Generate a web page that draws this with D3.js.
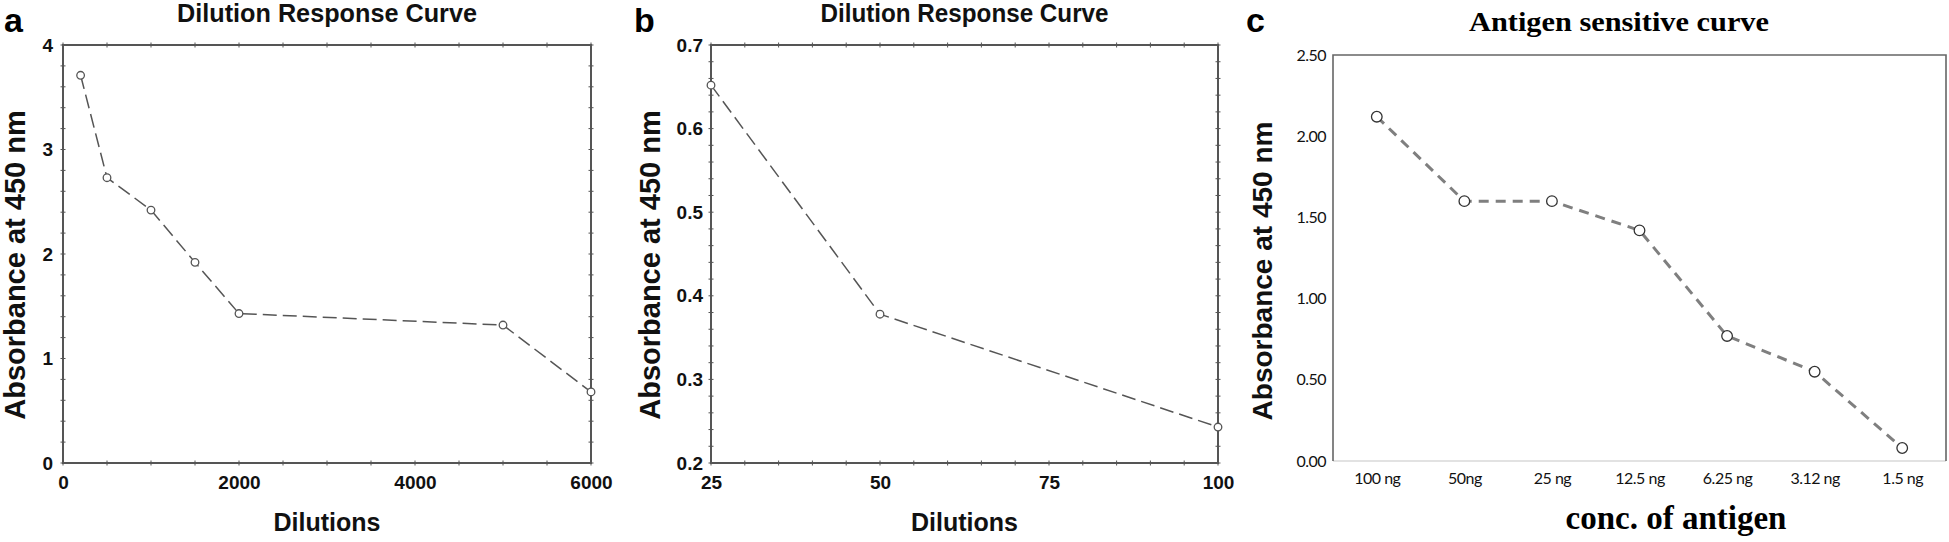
<!DOCTYPE html>
<html>
<head>
<meta charset="utf-8">
<script src="https://cdn.jsdelivr.net/npm/d3@7"></script>
<style>
  body { margin: 0; background: #fff; }
</style>
</head>
<body>
<script>
// panel a
const dilutionsA = [200, 500, 1000, 1500, 2000, 5000, 6000]
const absorbanceA = [3.71, 2.73, 2.42, 1.92, 1.43, 1.32, 0.68]
const xTicksA = [0, 2000, 4000, 6000]
const yTicksA = [0, 1, 2, 3, 4]

// panel b
const dilutionsB = [25, 50, 100]
const absorbanceB = [0.652, 0.378, 0.243]
const xTicksB = [25, 50, 75, 100]
const yTicksB = [0.2, 0.3, 0.4, 0.5, 0.6, 0.7]

// panel c
const concentrations = ['100 ng', '50ng', '25 ng', '12.5 ng', '6.25 ng', '3.12 ng', '1.5 ng']
const absorbanceC = [2.12, 1.60, 1.60, 1.42, 0.77, 0.55, 0.08]
const yTicksC = [0, 0.5, 1, 1.5, 2, 2.5]

const sans = '"Liberation Sans", Arial, sans-serif'
const serif = '"Liberation Serif", "Times New Roman", serif'
const frameColor = '#555'

const svg = d3.select('body').append('svg')
    .attr('width', 1949)
    .attr('height', 542)

// ---------- panels a and b: boxed statistica-style plots ----------
function boxedPanel(opts) {
    const g = svg.append('g')
    const x = opts.x, y = opts.y
    const [x0, x1] = x.range()
    const [y0, y1] = y.range()

    // minor ticks on all four sides, crossing the frame
    const xm = d3.range(opts.xMin[0], opts.xMin[1] + 1e-9, opts.xMin[2])
    const ym = d3.range(opts.yMin[0], opts.yMin[1] + 1e-9, opts.yMin[2])
    for (const yy of [y0, y1]) {
        g.selectAll(null).data(xm).enter().append('line')
            .attr('x1', d => x(d)).attr('x2', d => x(d))
            .attr('y1', yy - 2.5).attr('y2', yy + 2.5)
            .attr('stroke', frameColor).attr('stroke-width', 1)
    }
    for (const xx of [x0, x1]) {
        g.selectAll(null).data(ym).enter().append('line')
            .attr('y1', d => y(d)).attr('y2', d => y(d))
            .attr('x1', xx - 2.5).attr('x2', xx + 2.5)
            .attr('stroke', frameColor).attr('stroke-width', 1)
    }

    g.append('rect')
        .attr('x', x0).attr('y', y1)
        .attr('width', x1 - x0).attr('height', y0 - y1)
        .attr('fill', 'none')
        .attr('stroke', frameColor)
        .attr('stroke-width', 2)

    const xAxis = g.append('g')
        .attr('transform', `translate(0,${y0})`)
        .call(d3.axisBottom(x).tickValues(opts.xTicks).tickSize(0).tickPadding(13).tickFormat(d3.format('d')))
    const yAxis = g.append('g')
        .attr('transform', `translate(${x0},0)`)
        .call(d3.axisLeft(y).tickValues(opts.yTicks).tickSize(0).tickPadding(opts.yPad).tickFormat(opts.yFmt))
    for (const ax of [xAxis, yAxis]) {
        ax.select('.domain').remove()
        ax.selectAll('text')
            .attr('fill', '#111')
            .style('font-family', sans)
            .style('font-weight', 'bold')
            .style('font-size', '19px')
    }

    const pts = opts.xs.map((d, i) => [d, opts.ys[i]])
    g.append('path')
        .datum(pts)
        .attr('d', d3.line().x(d => x(d[0])).y(d => y(d[1])))
        .attr('fill', 'none')
        .attr('stroke', '#555')
        .attr('stroke-width', 1.5)
        .attr('stroke-dasharray', '14,6')

    g.selectAll(null).data(pts).enter().append('circle')
        .attr('cx', d => x(d[0]))
        .attr('cy', d => y(d[1]))
        .attr('r', 3.8)
        .attr('fill', '#fff')
        .attr('stroke', '#555')
        .attr('stroke-width', 1.3)

    const cx = (x0 + x1) / 2
    g.append('text')
        .attr('x', cx).attr('y', 22)
        .attr('text-anchor', 'middle')
        .attr('textLength', opts.titleLen)
        .attr('lengthAdjust', 'spacingAndGlyphs')
        .style('font-family', sans).style('font-weight', 'bold').style('font-size', '25px')
        .attr('fill', '#111')
        .text('Dilution Response Curve')

    g.append('text')
        .attr('x', cx).attr('y', 531)
        .attr('text-anchor', 'middle')
        .style('font-family', sans).style('font-weight', 'bold').style('font-size', '25px')
        .attr('fill', '#111')
        .text('Dilutions')

    g.append('text')
        .attr('transform', `translate(${opts.yTitleX},265) rotate(-90)`)
        .attr('text-anchor', 'middle')
        .style('font-family', sans).style('font-weight', 'bold').style('font-size', '29px')
        .attr('fill', '#111')
        .text('Absorbance at 450 nm')

    g.append('text')
        .attr('x', opts.letterX).attr('y', 32)
        .style('font-family', sans).style('font-weight', 'bold').style('font-size', '34px')
        .attr('fill', '#000')
        .text(opts.letter)
}

boxedPanel({
    x: d3.scaleLinear().domain([0, 6000]).range([63, 591]),
    y: d3.scaleLinear().domain([0, 4]).range([463, 45]),
    xs: dilutionsA, ys: absorbanceA,
    xTicks: xTicksA, yTicks: yTicksA,
    xMin: [0, 6000, 500], yMin: [0, 4, 0.2],
    yFmt: d3.format('d'), yPad: 10,
    titleLen: 300, yTitleX: 25, letter: 'a', letterX: 4
})

boxedPanel({
    x: d3.scaleLinear().domain([25, 100]).range([711, 1218]),
    y: d3.scaleLinear().domain([0.2, 0.7]).range([463, 45]),
    xs: dilutionsB, ys: absorbanceB,
    xTicks: xTicksB, yTicks: yTicksB,
    xMin: [25, 100, 5], yMin: [0.2, 0.7, 0.02],
    yFmt: d3.format('.1f'), yPad: 8,
    titleLen: 288, yTitleX: 660, letter: 'b', letterX: 634
})

// ---------- panel c: excel-style line chart ----------
const gc = svg.append('g')
const xc = d3.scalePoint().domain(concentrations).range([1333, 1946]).padding(0.5)
const yc = d3.scaleLinear().domain([0, 2.5]).range([461, 55])

// frame: light bottom axis, darker other sides
gc.append('line')
    .attr('x1', 1333).attr('x2', 1946).attr('y1', yc(0)).attr('y2', yc(0))
    .attr('stroke', '#d9d9d9').attr('stroke-width', 1.5)
gc.append('path')
    .attr('d', `M${xc.range()[0]},${yc(0)}V${yc(2.5)}H${xc.range()[1]}V${yc(0)}`)
    .attr('fill', 'none')
    .attr('stroke', '#666')
    .attr('stroke-width', 1.6)

const xAxisC = gc.append('g')
    .attr('transform', `translate(0,${yc(0)})`)
    .call(d3.axisBottom(xc).tickSize(0).tickPadding(12))
const yAxisC = gc.append('g')
    .attr('transform', `translate(1333,0)`)
    .call(d3.axisLeft(yc).tickValues(yTicksC).tickSize(0).tickPadding(7).tickFormat(d3.format('.2f')))
for (const ax of [xAxisC, yAxisC]) {
    ax.select('.domain').remove()
    ax.selectAll('text')
        .attr('fill', '#111')
        .style('font-family', 'Lato, "Open Sans", sans-serif')
        .style('font-size', '16px')
        .style('letter-spacing', '-0.5px')
}

const ptsC = concentrations.map((d, i) => [d, absorbanceC[i]])
gc.append('path')
    .datum(ptsC)
    .attr('d', d3.line().x(d => xc(d[0])).y(d => yc(d[1])))
    .attr('fill', 'none')
    .attr('stroke', '#7f7f7f')
    .attr('stroke-width', 3)
    .attr('stroke-dasharray', '10,7')

gc.selectAll(null).data(ptsC).enter().append('circle')
    .attr('cx', d => xc(d[0]))
    .attr('cy', d => yc(d[1]))
    .attr('r', 5.3)
    .attr('fill', '#fff')
    .attr('stroke', '#333')
    .attr('stroke-width', 1.3)

gc.append('text')
    .attr('x', 1619).attr('y', 31)
    .attr('text-anchor', 'middle')
    .attr('textLength', 300)
    .attr('lengthAdjust', 'spacingAndGlyphs')
    .style('font-family', serif).style('font-weight', 'bold').style('font-size', '28px')
    .attr('fill', '#000')
    .text('Antigen sensitive curve')

gc.append('text')
    .attr('x', 1676).attr('y', 529)
    .attr('text-anchor', 'middle')
    .style('font-family', serif).style('font-weight', 'bold').style('font-size', '33px')
    .attr('fill', '#000')
    .text('conc. of antigen')

gc.append('text')
    .attr('transform', 'translate(1272,271) rotate(-90)')
    .attr('text-anchor', 'middle')
    .style('font-family', sans).style('font-weight', 'bold').style('font-size', '28px')
    .attr('fill', '#111')
    .text('Absorbance at 450 nm')

gc.append('text')
    .attr('x', 1246).attr('y', 32)
    .style('font-family', sans).style('font-weight', 'bold').style('font-size', '34px')
    .attr('fill', '#000')
    .text('c')
</script>
</body>
</html>
